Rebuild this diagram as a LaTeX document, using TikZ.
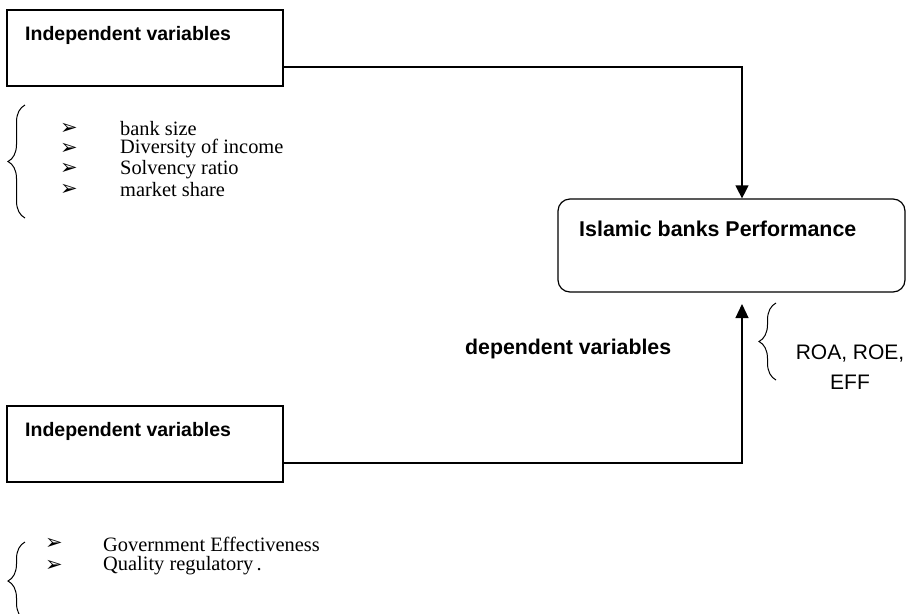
\documentclass[tikz,border=0pt]{standalone}
\usepackage{fontspec}
\setmainfont{Liberation Serif}
\setsansfont{Liberation Sans}
\newfontfamily\arrowfont{DejaVu Sans}
\usetikzlibrary{arrows.meta,decorations.pathreplacing,positioning}

\tikzset{
  varbox/.style={draw, line width=1.2pt, minimum width=276pt, minimum height=76pt, inner sep=0pt},
  perfbox/.style={draw, line width=1.2pt, rounded corners=12pt, minimum width=347pt, minimum height=93pt, inner sep=0pt},
  boxtitle/.style={font=\sffamily\bfseries\fontsize{19.5}{22}\selectfont, anchor=west, inner sep=0pt},
  listtext/.style={font=\fontsize{20.4}{22}\selectfont, anchor=west, inner sep=0pt},
  bullet/.style={font=\arrowfont\fontsize{21}{22}\selectfont, inner sep=0pt},
  link/.style={line width=1.2pt},
  curly/.style={decorate, decoration={brace, amplitude=17pt, aspect=0.5}, line width=1pt},
}

\begin{document}
\begin{tikzpicture}[x=1pt, y=-1pt]
  \clip (0,0) rectangle (910,613);

  % boxes
  \node[varbox] (indep1) at (145,48) {};
  \node[boxtitle] (indep1txt) at (25,35) {Independent variables};
  \node[varbox] (indep2) at (145,444) {};
  \node[boxtitle] (indep2txt) at (25,431) {Independent variables};
  \node[perfbox] (perf) at (731.5,245.5) {};
  \node[boxtitle, font=\sffamily\bfseries\fontsize{21.4}{24}\selectfont] (perftxt) at (579,229) {Islamic banks Performance};

  \node[font=\sffamily\bfseries\fontsize{21.3}{24}\selectfont, anchor=west, inner sep=0pt] (deptxt) at (465,349) {dependent variables};
  \node[font=\sffamily\fontsize{21}{30}\selectfont, align=center, inner sep=0pt] (ratios) at (850,367) {ROA, ROE,\\EFF};

  % connectors
  \coordinate (turn1) at (742,67);
  \coordinate (turn2) at (742,463);
  \coordinate (tip2) at (742,304);
  \draw[link, -{Triangle[width=13pt,length=13pt]}] (indep1.east |- turn1) -- (turn1) -- (turn1 |- perf.north);
  \draw[link, -{Triangle[width=13pt,length=14pt]}] (indep2.east |- turn2) -- (turn2) -- (tip2);

  % first list
  \foreach \txt [count=\i] in {bank size, Diversity of income, Solvency ratio, market share} {
    \node[bullet] (bulA\i) at (69,108+20.4*\i) {➢};
    \node[listtext] (itemA\i) at (120,108+20.4*\i) {\txt};
  }
  \draw[curly] (25,218) -- (25,105);

  % second list
  \node[bullet] (bulB1) at (54,544) {➢};
  \node[listtext] (itemB1) at (103,544) {Government Effectiveness};
  \node[bullet] (bulB2) at (54,566) {➢};
  \node[listtext] (itemB2) at (103,566) {Quality regulatory\,.};
  \draw[curly] (25,620) -- (25,542);

  % dependent measures
  \draw[curly] (776,380) -- (776,303);
\end{tikzpicture}
\end{document}
